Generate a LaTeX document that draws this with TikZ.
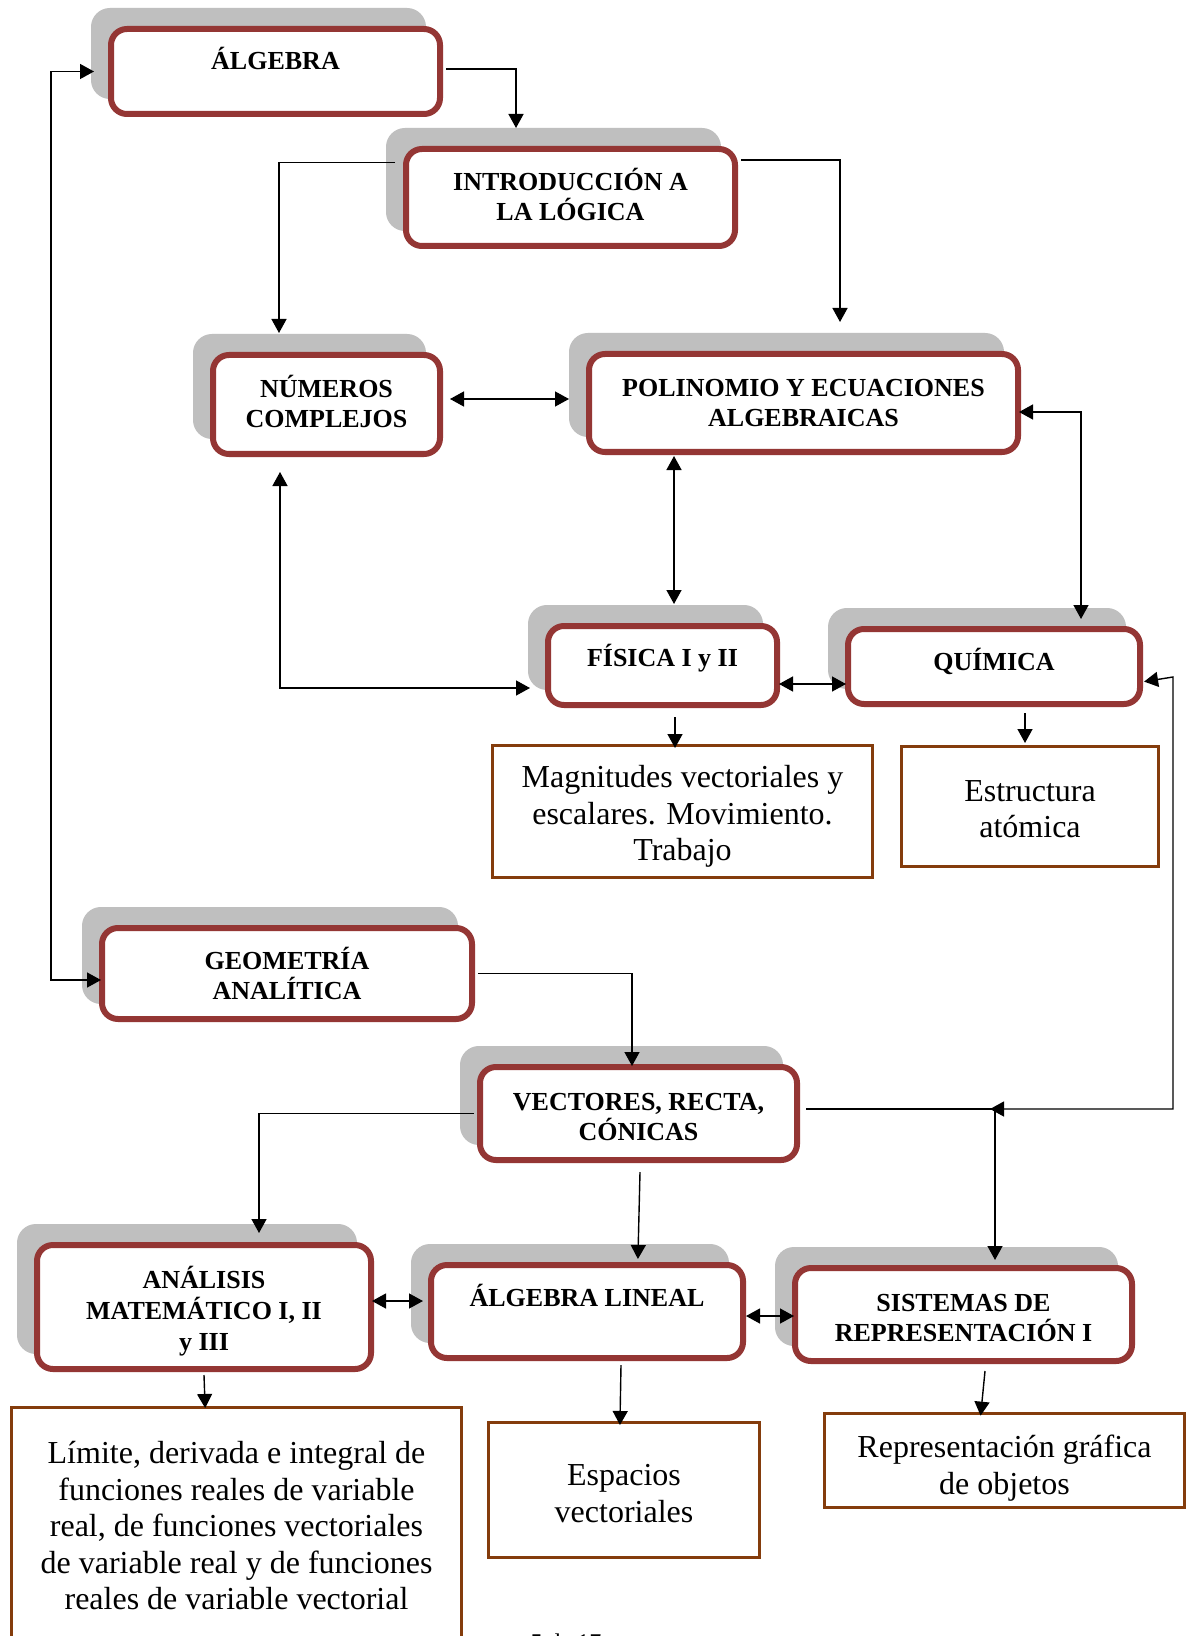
\documentclass[tikz,border=0pt]{standalone}
\usepackage{fontspec}
\setmainfont{Liberation Serif}
\usetikzlibrary{shadows,arrows.meta}
\definecolor{rojo}{RGB}{148,54,52}
\definecolor{marron}{RGB}{132,60,12}

\begin{document}
\begin{tikzpicture}[x=0.5pt,y=-0.5pt,
  materia/.style={draw=rojo, line width=3pt, fill=white, rounded corners=8pt,
    align=center, inner sep=2pt, font=\fontsize{13pt}{15pt}\selectfont\bfseries,
    drop shadow={shadow xshift=-8.5pt, shadow yshift=9pt, opacity=1,
      fill=gray!50, draw=gray!50, line width=3pt}},
  tema/.style={draw=marron, line width=1.5pt, fill=white, align=center,
    font=\fontsize{16pt}{18.25pt}\selectfont},
  flecha/.style={-{Triangle[length=7pt,width=7.5pt]}, line width=0.7pt, shorten >=-2pt},
  doble/.style={{Triangle[length=7pt,width=7.5pt]}-{Triangle[length=7pt,width=7.5pt]}, line width=0.7pt,
    shorten >=-2pt, shorten <=-2pt}]
  \useasboundingbox (0,0) rectangle (1188,1636);
  \clip (0,0) rectangle (1188,1636);
  \fill[white] (0,0) rectangle (1188,1636);

  \node[materia, minimum width=164.5pt, minimum height=42.5pt, text height=12pt, text depth=13.9pt] (alg) at (275.5,71.5) {ÁLGEBRA};
  \node[materia, minimum width=164.5pt, minimum height=48.5pt] (intro) at (570.5,197.5) {INTRODUCCIÓN A\\LA LÓGICA\rule[-3pt]{0pt}{0pt}};
  \node[materia, minimum width=113.5pt, minimum height=49.5pt] (num) at (326.5,404.5) {NÚMEROS\\COMPLEJOS\rule[-3.5pt]{0pt}{0pt}};
  \node[materia, minimum width=214.5pt, minimum height=49pt] (pol) at (803.5,403) {POLINOMIO Y ECUACIONES\\ALGEBRAICAS};
  \node[materia, minimum width=114.5pt, minimum height=39.5pt, text height=12pt, text depth=10.9pt] (fis) at (662.5,665.5) {FÍSICA I y II};
  \node[materia, minimum width=146pt, minimum height=37.5pt, text height=12pt, text depth=8.4pt] (qui) at (994,666.5) {QUÍMICA};
  \node[materia, minimum width=185pt, minimum height=45.5pt] (geo) at (287,973.5) {GEOMETRÍA\\ANALÍTICA};
  \node[materia, minimum width=158.5pt, minimum height=46.5pt] (vec) at (638.5,1113.5) {\rule{0pt}{12pt}VECTORES, RECTA,\\CÓNICAS};
  \node[materia, minimum width=167pt, minimum height=62pt] (ana) at (204,1307) {\rule{0pt}{15pt}ANÁLISIS\\[0.5pt]MATEMÁTICO I, II\\[0.5pt]y III};
  \node[materia, minimum width=156pt, minimum height=46.5pt, text height=12pt, text depth=16.9pt] (alin) at (587,1311.5) {ÁLGEBRA LINEAL};
  \node[materia, minimum width=168.5pt, minimum height=46.5pt] (sis) at (963.5,1314.5) {\rule{0pt}{12pt}SISTEMAS DE\\REPRESENTACIÓN I};

  \node[tema, minimum width=190pt, minimum height=66pt] (mag) at (682.5,811.5) {\rule{0pt}{16pt}Magnitudes vectoriales y\\escalares. Movimiento.\\Trabajo};
  \node[tema, minimum width=128.5pt, minimum height=60pt] (est) at (1030,806.5) {\rule{0pt}{13pt}Estructura\\atómica};
  \node[tema, minimum width=225pt, minimum height=118.5pt] (lim) at (236.5,1526) {Límite, derivada e integral de\\funciones reales de variable\\real, de funciones vectoriales\\de variable real y de funciones\\reales de variable vectorial};
  \node[tema, minimum width=135.5pt, minimum height=67.5pt] (esp) at (624,1490) {\rule{0pt}{14pt}Espacios\\vectoriales};
  \node[tema, minimum width=180pt, minimum height=44pt] (rep) at (1004.5,1460.5) {\rule{0pt}{19pt}Representación gráfica\\de objetos};
  \node[anchor=north, inner sep=0pt, font=\fontsize{12pt}{14pt}\selectfont] (pag) at (566,1633) {5 de 17};

  \coordinate (cruce) at (994,1109);

  \draw[doble] ([xshift=-9pt]alg.west) -| (51,980) -- ([xshift=-1pt,yshift=-3.25pt]geo.west);
  \draw[flecha] ([xshift=1.5pt,yshift=1.25pt]alg.east) -| ([xshift=-27.25pt,yshift=11pt]intro.north);
  \draw[flecha] ([xshift=-4pt,yshift=17.5pt]intro.west) -| ([xshift=-23.75pt,yshift=11.5pt]num.north);
  \draw[flecha] ([xshift=1.5pt,yshift=18.75pt]intro.east) -| ([xshift=18.25pt,yshift=16.5pt]pol.north);
  \draw[doble] ([xshift=5.5pt,yshift=2.75pt]num.east) -- ([xshift=-10.5pt,yshift=2pt]pol.west);
  \draw[doble] ([xshift=-64.75pt,yshift=-2.5pt]pol.south) -- ([xshift=5.75pt,yshift=11.5pt]fis.north);
  \draw[doble] ([xshift=-23.25pt,yshift=-9.5pt]num.south) |- ([xshift=-9.5pt,yshift=-11.25pt]fis.west);
  \draw[doble] ([xshift=1pt,yshift=-4.5pt]pol.east) -| ([xshift=43.5pt,yshift=5.5pt]qui.north);
  \draw[doble] ([xshift=1.5pt,yshift=-9.25pt]fis.east) -- ([xshift=-1.5pt,yshift=-8.75pt]qui.west);
  \draw[flecha] ([xshift=6.25pt,yshift=-4.5pt]fis.south) -- ([xshift=-3.75pt]mag.north);
  \draw[flecha] ([xshift=15.5pt,yshift=-3pt]qui.south) -- ([xshift=-2.5pt,yshift=3pt]est.north);
  \draw[doble] ([xshift=2.5pt,yshift=-7.25pt]qui.east) -- (1173,677) -- (1173,1109) -- (cruce);
  \draw[flecha] ([xshift=1.5pt]geo.east) -| ([xshift=-3.25pt,yshift=1pt]vec.north);
  \draw[flecha] ([xshift=3pt,yshift=2.25pt]vec.east) -| ([xshift=15.75pt,yshift=4.5pt]sis.north);
  \draw[flecha] ([xshift=-1.5pt]vec.west) -| ([xshift=27.5pt,yshift=6.5pt]ana.north);
  \draw[flecha] ([xshift=0.75pt,yshift=-4.5pt]vec.south) -- ([xshift=25.5pt,yshift=3.5pt]alin.north);
  \draw[doble] ([xshift=1pt,yshift=3pt]ana.east) -- ([xshift=-4.5pt,yshift=5.25pt]alin.west);
  \draw[doble] ([xshift=2pt,yshift=-2.25pt]alin.east) -- ([xshift=-1pt,yshift=-0.75pt]sis.west);
  \draw[flecha] ([yshift=-1.5pt]ana.south) -- ([xshift=-15.75pt,yshift=1pt]lim.north);
  \draw[flecha] ([xshift=17pt,yshift=-2pt]alin.south) -- ([xshift=-2pt]esp.north);
  \draw[flecha] ([xshift=10.75pt,yshift=-3.5pt]sis.south) -- ([xshift=-11.75pt]rep.north);
\end{tikzpicture}
\end{document}
